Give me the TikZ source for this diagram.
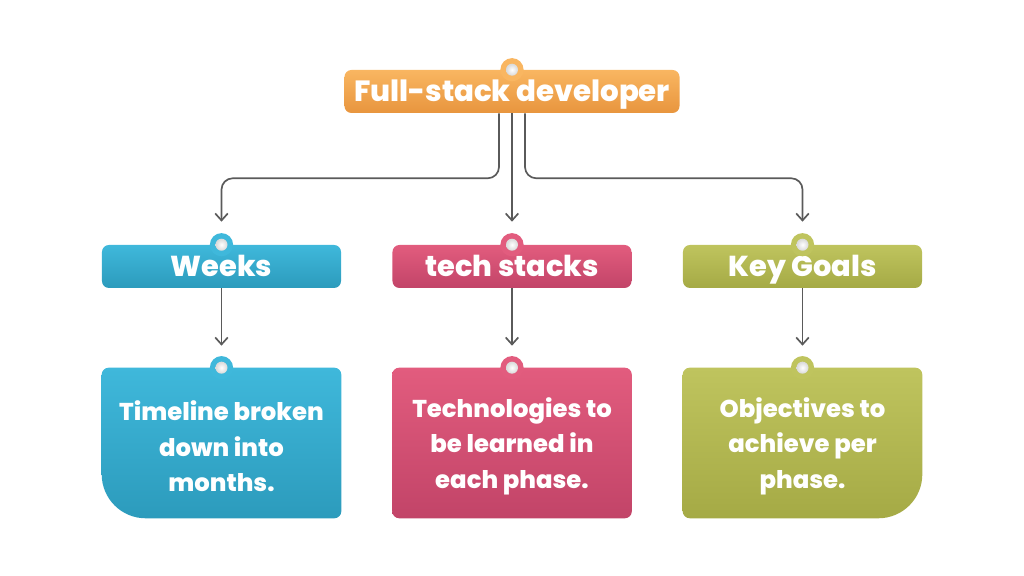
\documentclass[tikz,border=0pt]{standalone}
\usepackage{fontspec}
\setmainfont{Poppins}[BoldFont={Poppins ExtraBold}]
\usetikzlibrary{positioning,backgrounds,arrows.meta}
\definecolor{orangetop}{HTML}{F9B661}
\definecolor{orangebot}{HTML}{E8953E}
\definecolor{bluetop}{HTML}{3FB8DB}
\definecolor{bluebot}{HTML}{2C9BBC}
\definecolor{pinktop}{HTML}{E25C7E}
\definecolor{pinkbot}{HTML}{C24468}
\definecolor{greentop}{HTML}{BFC45E}
\definecolor{greenbot}{HTML}{A5AA45}
\definecolor{linkgray}{HTML}{5A5A5A}
\begin{document}
\begin{tikzpicture}[x=0.025cm,y=0.025cm,
  head/.style={text=white, font=\bfseries\fontsize{20.8}{24}\selectfont, inner sep=0pt,
    minimum width=8.375cm, minimum height=1.075cm, rounded corners=5pt,
    text height=16pt, text depth=1.5pt},
  topic/.style={text=white, font=\bfseries\fontsize{20.5}{24}\selectfont, inner sep=0pt,
    minimum width=5.975cm, minimum height=1.075cm, rounded corners=5pt,
    text height=16pt, text depth=1.5pt},
  detail/.style={inner sep=0pt, minimum width=5.975cm, minimum height=3.75cm},
  detailtext/.style={text=white, font=\bfseries\fontsize{17.3}{25}\selectfont,
    inner sep=0pt, align=center},
  link/.style={draw=linkgray, line width=1.2pt, -{Straight Barb[length=5pt,width=9pt]},
    rounded corners=8pt}]
\useasboundingbox (0,0) rectangle (1024,576);

% root and topics
\node[head, top color=orangetop, bottom color=orangebot] (full) at (512,484.5) {Full-stack developer};
\node[topic, top color=bluetop, bottom color=bluebot] (weeks) at (221.5,309.5) {Weeks};
\node[topic, top color=pinktop, bottom color=pinkbot] (stacks) at (512,309.5) {tech stacks};
\node[topic, top color=greentop, bottom color=greenbot] (goals) at (802.5,309.5) {Key Goals};

% details
\node[detail] (timeline) at (221.5,133) {};
\node[detail] (techs) at (512,133) {};
\node[detail] (aims) at (802.5,133) {};

\shade[top color=bluetop, bottom color=bluebot]
  (timeline.west) [rounded corners=1.1cm] -- (timeline.south west) -- (timeline.south)
  [rounded corners=5pt] -- (timeline.south east) -- (timeline.north east)
  -- (timeline.north west) -- cycle;
\shade[top color=pinktop, bottom color=pinkbot, rounded corners=5pt]
  (techs.south west) rectangle (techs.north east);
\shade[top color=greentop, bottom color=greenbot]
  (aims.east) [rounded corners=1.1cm] -- (aims.south east) -- (aims.south)
  [rounded corners=5pt] -- (aims.south west) -- (aims.north west)
  -- (aims.north east) -- cycle;

\node[detailtext] (timelinetext) at ([yshift=-0.08cm]timeline.center) {Timeline broken\\down into\\months.};
\node[detailtext] (techstext) at ([yshift=-0.08cm]techs.center) {Technologies to\\be learned in\\each phase.};
\node[detailtext] (aimstext) at ([yshift=-0.08cm]aims.center) {Objectives to\\achieve per\\phase.};

% pins
\foreach \nd/\col in {full/orangetop, weeks/bluetop, stacks/pinktop, goals/greentop,
                      timeline/bluetop, techs/pinktop, aims/greentop}{
  \fill[\col] (\nd.north) circle (0.29cm);
  \shade[inner color=white, outer color=gray!30] (\nd.north) circle (0.15cm);
}

% connectors
\coordinate (weeksin) at ([yshift=0.575cm]weeks.north);
\coordinate (stacksin) at ([yshift=0.575cm]stacks.north);
\coordinate (goalsin) at ([yshift=0.575cm]goals.north);
\draw[link] ([xshift=-0.325cm]full.south) -- ++(0,-65) -| (weeksin);
\draw[link] (full.south) -- (stacksin);
\draw[link] ([xshift=0.325cm]full.south) -- ++(0,-65) -| (goalsin);
\foreach \from/\to in {weeks/timeline, stacks/techs, goals/aims}{
  \draw[link] (\from.south) -- ([yshift=0.55cm]\to.north);
}
\end{tikzpicture}
\end{document}
